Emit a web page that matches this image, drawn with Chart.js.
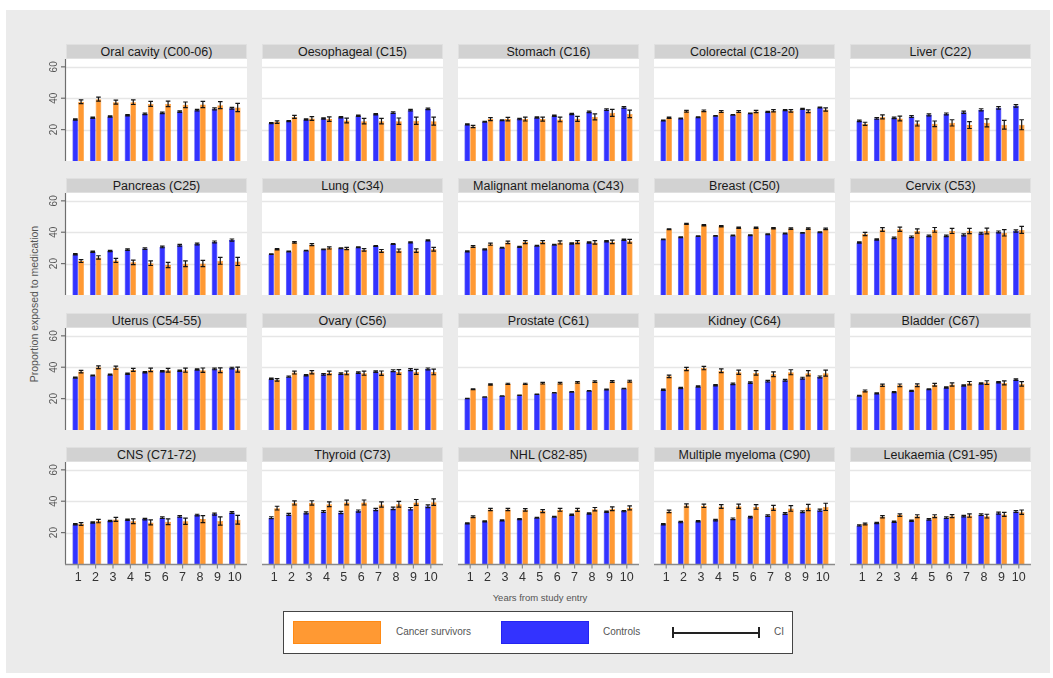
<!DOCTYPE html>
<html><head><meta charset="utf-8">
<script src="https://cdn.jsdelivr.net/npm/chart.js@4"></script>
<style>
body{margin:0;background:#fff;width:1053px;height:678px;position:relative;overflow:hidden;font-family:"Liberation Sans",Arial,sans-serif;}
#bg{position:absolute;left:6px;top:10px;width:1044px;height:663px;background:#ebebeb;}
.title{position:absolute;height:15px;background:#d2d2d2;color:#1a1a1a;font-size:12.5px;line-height:15px;text-align:center;box-sizing:border-box;border:1px solid #e0e0e0;white-space:nowrap;}
.cw{position:absolute;}
#ytitle{position:absolute;left:34px;top:304px;transform:translate(-50%,-50%) rotate(-90deg);font-size:10.5px;color:#555;white-space:nowrap;}
#xtitle{position:absolute;left:540px;top:597px;transform:translate(-50%,-50%);font-size:9.5px;color:#555;white-space:nowrap;}
#legend{position:absolute;left:283px;top:611px;width:510px;height:43px;box-sizing:border-box;border:1.5px solid #444;background:#fff;}
.sw{position:absolute;top:9px;width:88px;height:23px;box-sizing:border-box;}
.lt{position:absolute;top:14px;font-size:10px;color:#555;line-height:12px;}
</style></head>
<body>
<div id="bg"></div>
<div id="ytitle">Proportion exposed to medication</div>
<div id="xtitle">Years from study entry</div>
<div id="legend">
  <div class="sw" style="left:9px;background:#ff9933;border:1px solid #ff8a14;"></div>
  <div class="lt" style="left:112px;">Cancer survivors</div>
  <div class="sw" style="left:217px;background:#3333ff;border:1px solid #2424f0;"></div>
  <div class="lt" style="left:319px;">Controls</div>
  <div style="position:absolute;left:388px;top:19.5px;width:88px;height:2px;background:#222;"></div>
  <div style="position:absolute;left:388px;top:15px;width:2px;height:11px;background:#222;"></div>
  <div style="position:absolute;left:474px;top:15px;width:2px;height:11px;background:#222;"></div>
  <div class="lt" style="left:490px;">CI</div>
</div>
<script>
const years = ['1','2','3','4','5','6','7','8','9','10'];
const yTicks = [20, 40, 60];
const panelTitles = [
  'Oral cavity (C00-06)','Oesophageal (C15)','Stomach (C16)','Colorectal (C18-20)','Liver (C22)',
  'Pancreas (C25)','Lung (C34)','Malignant melanoma (C43)','Breast (C50)','Cervix (C53)',
  'Uterus (C54-55)','Ovary (C56)','Prostate (C61)','Kidney (C64)','Bladder (C67)',
  'CNS (C71-72)','Thyroid (C73)','NHL (C82-85)','Multiple myeloma (C90)','Leukaemia (C91-95)'
];
const controls = [
  [26.5,27.5,28.4,29.2,30.0,30.7,31.5,32.4,33.2,33.6],
  [24.1,25.4,26.5,27.1,27.9,28.8,29.8,30.9,32.4,33.2],
  [23.3,25.0,26.0,26.7,27.7,28.8,30.0,31.3,32.8,34.1],
  [25.8,27.1,27.9,28.8,29.4,30.3,31.3,32.4,33.2,34.1],
  [25.6,27.1,27.5,28.4,29.4,30.0,31.1,32.6,33.9,35.1],
  [26.0,27.5,28.1,28.9,29.6,30.6,31.7,32.5,33.8,35.0],
  [26.0,27.7,28.3,29.1,29.8,30.4,31.2,32.5,33.5,34.8],
  [27.8,29.1,30.1,30.7,31.4,32.0,32.8,33.5,34.3,35.2],
  [35.4,36.8,37.5,37.7,37.9,38.1,38.7,39.2,39.6,40.0],
  [33.5,35.4,36.4,37.1,37.7,37.7,38.3,39.4,40.2,40.8],
  [33.4,34.7,35.3,35.9,36.8,37.4,37.8,38.5,38.9,39.5],
  [32.6,34.0,34.9,35.5,35.9,36.6,37.2,37.8,38.5,38.9],
  [20.1,21.1,21.6,22.2,22.8,23.7,24.3,24.9,25.8,26.4],
  [25.6,26.8,27.7,28.5,29.4,30.2,31.1,31.7,33.0,33.8],
  [21.8,23.3,24.1,24.9,26.0,27.1,28.3,29.6,30.4,32.1],
  [25.3,26.5,27.4,28.2,28.6,29.5,30.3,31.2,31.8,32.8],
  [29.5,31.6,32.6,33.5,32.8,33.7,34.7,35.4,35.2,36.8],
  [25.9,27.2,27.8,28.6,29.5,30.1,31.4,32.2,33.3,33.7],
  [25.3,26.7,27.2,28.0,28.8,29.9,30.9,32.2,33.3,34.3],
  [24.6,26.1,26.9,27.6,28.4,29.5,30.5,31.4,32.4,33.5]
];
const survivors = [
  [37.7,39.4,37.5,37.5,36.4,36.4,35.8,36.0,35.6,34.1],
  [24.8,28.1,27.1,26.7,25.8,25.4,25.4,25.4,25.6,25.4],
  [22.0,26.7,26.7,26.7,26.7,26.5,26.9,28.1,30.7,30.0],
  [27.5,31.7,32.0,31.5,31.5,31.5,32.0,32.0,31.7,32.8],
  [23.7,28.1,27.1,23.9,23.7,24.3,22.9,24.3,23.1,23.1],
  [21.6,23.9,22.0,20.8,20.3,19.1,19.9,20.1,21.8,21.4],
  [29.1,33.5,32.1,30.0,29.6,28.7,28.1,28.3,28.3,29.1],
  [30.9,32.4,33.5,33.7,33.7,33.5,33.7,33.5,33.9,34.3],
  [41.9,45.3,44.4,43.8,42.9,42.9,42.5,42.3,42.3,42.1],
  [38.9,41.7,41.9,40.8,41.5,40.8,40.8,40.8,39.6,41.5],
  [37.2,40.0,39.7,38.3,38.3,38.1,38.1,38.1,38.1,38.5],
  [31.9,36.6,36.8,36.4,36.4,36.2,36.2,37.0,37.0,37.0],
  [26.0,29.0,29.4,29.4,29.8,29.8,30.4,30.9,30.9,31.1],
  [34.2,38.9,39.5,37.8,36.8,36.4,35.5,36.8,36.2,36.2],
  [24.9,28.5,28.5,28.5,28.8,29.0,29.8,30.2,30.0,29.4],
  [25.5,27.4,28.4,27.2,26.5,26.9,27.2,28.6,27.4,28.2],
  [35.6,38.9,38.9,38.1,39.2,39.2,37.9,38.1,39.2,39.4],
  [30.1,34.7,34.7,34.5,33.7,34.5,34.5,34.9,35.2,35.8],
  [33.5,37.3,37.1,36.6,36.8,36.4,35.8,35.4,36.0,36.4],
  [25.5,30.1,31.2,30.5,30.5,30.5,30.9,30.5,31.6,33.0]
];
// half-widths of 95% CI
const controlsCI = [
  [0.4,0.4,0.4,0.4,0.5,0.5,0.5,0.5,0.6,0.6],
  [0.3,0.3,0.4,0.4,0.4,0.4,0.4,0.5,0.5,0.5],
  [0.3,0.3,0.3,0.4,0.4,0.4,0.4,0.5,0.5,0.5],
  [0.2,0.2,0.2,0.2,0.2,0.2,0.3,0.3,0.3,0.3],
  [0.5,0.5,0.5,0.6,0.6,0.6,0.7,0.7,0.8,0.8],
  [0.4,0.4,0.4,0.5,0.5,0.5,0.5,0.6,0.6,0.7],
  [0.2,0.2,0.2,0.2,0.2,0.3,0.3,0.3,0.3,0.3],
  [0.3,0.3,0.3,0.3,0.3,0.3,0.4,0.4,0.4,0.4],
  [0.2,0.2,0.2,0.2,0.2,0.2,0.2,0.2,0.2,0.3],
  [0.4,0.4,0.5,0.5,0.5,0.5,0.6,0.6,0.6,0.7],
  [0.3,0.3,0.3,0.4,0.4,0.4,0.4,0.4,0.5,0.5],
  [0.4,0.4,0.4,0.5,0.5,0.5,0.5,0.6,0.6,0.6],
  [0.1,0.1,0.1,0.1,0.1,0.1,0.2,0.2,0.2,0.2],
  [0.4,0.4,0.4,0.4,0.5,0.5,0.5,0.5,0.6,0.6],
  [0.3,0.3,0.3,0.3,0.3,0.4,0.4,0.4,0.4,0.5],
  [0.4,0.4,0.4,0.4,0.5,0.5,0.5,0.5,0.6,0.6],
  [0.6,0.6,0.6,0.6,0.7,0.7,0.7,0.8,0.8,0.9],
  [0.3,0.3,0.3,0.3,0.3,0.3,0.4,0.4,0.4,0.4],
  [0.4,0.4,0.4,0.5,0.5,0.5,0.5,0.6,0.6,0.7],
  [0.4,0.4,0.4,0.4,0.5,0.5,0.5,0.5,0.6,0.6]
];
const survivorsCI = [
  [1.2,1.3,1.3,1.5,1.6,1.7,1.8,2.0,2.2,2.6],
  [0.8,1.0,1.2,1.4,1.5,1.7,1.8,2.0,2.3,2.5],
  [0.7,1.0,1.1,1.2,1.3,1.5,1.6,1.9,2.2,2.4],
  [0.4,0.5,0.5,0.6,0.6,0.7,0.7,0.8,0.9,1.0],
  [1.0,1.3,1.5,1.6,1.8,2.0,2.2,2.5,2.8,3.2],
  [0.9,1.1,1.3,1.4,1.5,1.7,1.8,2.0,2.2,2.6],
  [0.4,0.5,0.6,0.7,0.7,0.8,0.9,1.0,1.1,1.2],
  [0.6,0.7,0.8,0.9,0.9,1.0,1.0,1.1,1.1,1.2],
  [0.3,0.3,0.4,0.4,0.4,0.4,0.4,0.5,0.5,0.5],
  [1.0,1.2,1.3,1.4,1.5,1.6,1.7,1.8,2.0,2.2],
  [0.8,0.9,1.0,1.0,1.1,1.2,1.3,1.4,1.5,1.6],
  [0.8,0.9,1.0,1.1,1.2,1.3,1.4,1.5,1.6,1.8],
  [0.3,0.4,0.4,0.4,0.5,0.5,0.5,0.5,0.6,0.6],
  [0.8,1.0,1.1,1.2,1.3,1.4,1.5,1.6,1.7,1.9],
  [0.6,0.7,0.8,0.9,0.9,1.0,1.1,1.2,1.3,1.4],
  [0.9,1.1,1.3,1.5,1.6,1.8,2.0,2.2,2.6,2.8],
  [1.2,1.3,1.4,1.5,1.5,1.6,1.7,1.8,1.9,2.1],
  [0.6,0.7,0.7,0.8,0.9,0.9,1.0,1.1,1.2,1.3],
  [0.8,1.0,1.1,1.2,1.3,1.5,1.6,1.8,2.0,2.3],
  [0.6,0.7,0.8,0.9,0.9,1.0,1.1,1.2,1.3,1.4]
];

const PLOT_W = 181, COL_STEP = 196, ROW_STEP = 134.5, TITLE_H = 15, PLOT_H = 102;
const FONT = '"Liberation Sans", Arial, sans-serif';

const panelPlugin = {
  id: 'panel',
  beforeDraw(chart, args, opts) {
    const ctx = chart.ctx, y = chart.scales.y, a = chart.chartArea;
    const L = opts.axisW, R = chart.width;
    ctx.save();
    ctx.fillStyle = '#ffffff';
    ctx.fillRect(L, 0, R - L, a.bottom);
    ctx.strokeStyle = '#e6e6e6';
    ctx.lineWidth = 1.5;
    yTicks.forEach(v => {
      const py = Math.round(y.getPixelForValue(v)) + 0.5;
      ctx.beginPath(); ctx.moveTo(L, py); ctx.lineTo(R, py); ctx.stroke();
    });
    ctx.restore();
  },
  afterDatasetsDraw(chart, args, opts) {
    const ctx = chart.ctx, y = chart.scales.y, x = chart.scales.x, a = chart.chartArea;
    const L = opts.axisW, R = chart.width;
    ctx.save();
    ctx.strokeStyle = '#151515';
    ctx.lineWidth = 1.2;
    chart.data.datasets.forEach((ds, di) => {
      const meta = chart.getDatasetMeta(di);
      meta.data.forEach((el, i) => {
        const v = ds.data[i], h = ds.ci[i];
        const y1 = y.getPixelForValue(v - h), y2 = y.getPixelForValue(v + h);
        const cw = el.width * 0.8;
        ctx.beginPath();
        ctx.moveTo(el.x, y1); ctx.lineTo(el.x, y2);
        ctx.moveTo(el.x - cw / 2, y1); ctx.lineTo(el.x + cw / 2, y1);
        ctx.moveTo(el.x - cw / 2, y2); ctx.lineTo(el.x + cw / 2, y2);
        ctx.stroke();
      });
    });
    if (opts.showY) {
      ctx.strokeStyle = '#6e6e6e';
      ctx.lineWidth = 1.2;
      ctx.beginPath(); ctx.moveTo(L - 0.5, 0); ctx.lineTo(L - 0.5, a.bottom); ctx.stroke();
      ctx.fillStyle = '#555';
      ctx.font = '10px ' + FONT;
      ctx.textAlign = 'center';
      ctx.textBaseline = 'middle';
      yTicks.forEach(v => {
        const py = y.getPixelForValue(v);
        ctx.beginPath(); ctx.moveTo(L - 5, py); ctx.lineTo(L, py); ctx.stroke();
        ctx.save();
        ctx.translate(L - 12, py);
        ctx.rotate(-Math.PI / 2);
        ctx.fillText(String(v), 0, 0);
        ctx.restore();
      });
    }
    if (opts.showX) {
      ctx.strokeStyle = '#8a8a8a';
      ctx.lineWidth = 1.5;
      ctx.beginPath(); ctx.moveTo(L - 1, a.bottom + 0.5); ctx.lineTo(R, a.bottom + 0.5); ctx.stroke();
      ctx.fillStyle = '#333';
      ctx.font = '12.5px ' + FONT;
      ctx.textAlign = 'center';
      ctx.textBaseline = 'middle';
      ctx.lineWidth = 1.2;
      years.forEach((lab, i) => {
        const px = x.getPixelForValue(i);
        ctx.beginPath(); ctx.moveTo(px, a.bottom); ctx.lineTo(px, a.bottom + 4.5); ctx.stroke();
        ctx.fillText(lab, px, a.bottom + 13.5);
      });
    }
    ctx.restore();
  }
};

panelTitles.forEach((title, p) => {
  const r = Math.floor(p / 5), c = p % 5;
  const plotLeft = 66 + c * COL_STEP;
  const titleTop = 43.5 + r * ROW_STEP;
  const plotTop = titleTop + TITLE_H;
  const axisW = c === 0 ? 36 : 0;
  const bottomExtra = r === 3 ? 24 : 1;

  const t = document.createElement('div');
  t.className = 'title';
  t.style.left = plotLeft + 'px';
  t.style.top = titleTop + 'px';
  t.style.width = PLOT_W + 'px';
  t.textContent = title;
  document.body.appendChild(t);

  const w = document.createElement('div');
  w.className = 'cw';
  w.style.left = (plotLeft - axisW) + 'px';
  w.style.top = plotTop + 'px';
  w.style.width = (PLOT_W + axisW) + 'px';
  w.style.height = (PLOT_H + bottomExtra) + 'px';
  const cv = document.createElement('canvas');
  w.appendChild(cv);
  document.body.appendChild(w);

  new Chart(cv, {
    type: 'bar',
    data: {
      labels: years,
      datasets: [
        { label: 'Controls', data: controls[p], ci: controlsCI[p],
          backgroundColor: '#3333ff', borderColor: '#2222ee', borderWidth: 0.6 },
        { label: 'Cancer survivors', data: survivors[p], ci: survivorsCI[p],
          backgroundColor: '#ff9933', borderColor: '#ff8a14', borderWidth: 0.6 }
      ]
    },
    options: {
      responsive: true,
      maintainAspectRatio: false,
      animation: false,
      events: [],
      layout: { padding: { left: axisW + 3.5, right: 3.5, top: 0, bottom: bottomExtra } },
      datasets: { bar: { categoryPercentage: 0.66, barPercentage: 1 } },
      scales: {
        x: { display: false, offset: true },
        y: { display: false, min: 0, max: 65 }
      },
      plugins: {
        legend: { display: false },
        tooltip: { enabled: false },
        panel: { axisW: axisW, showY: c === 0, showX: r === 3 }
      }
    },
    plugins: [panelPlugin]
  });
});
</script>
</body></html>
